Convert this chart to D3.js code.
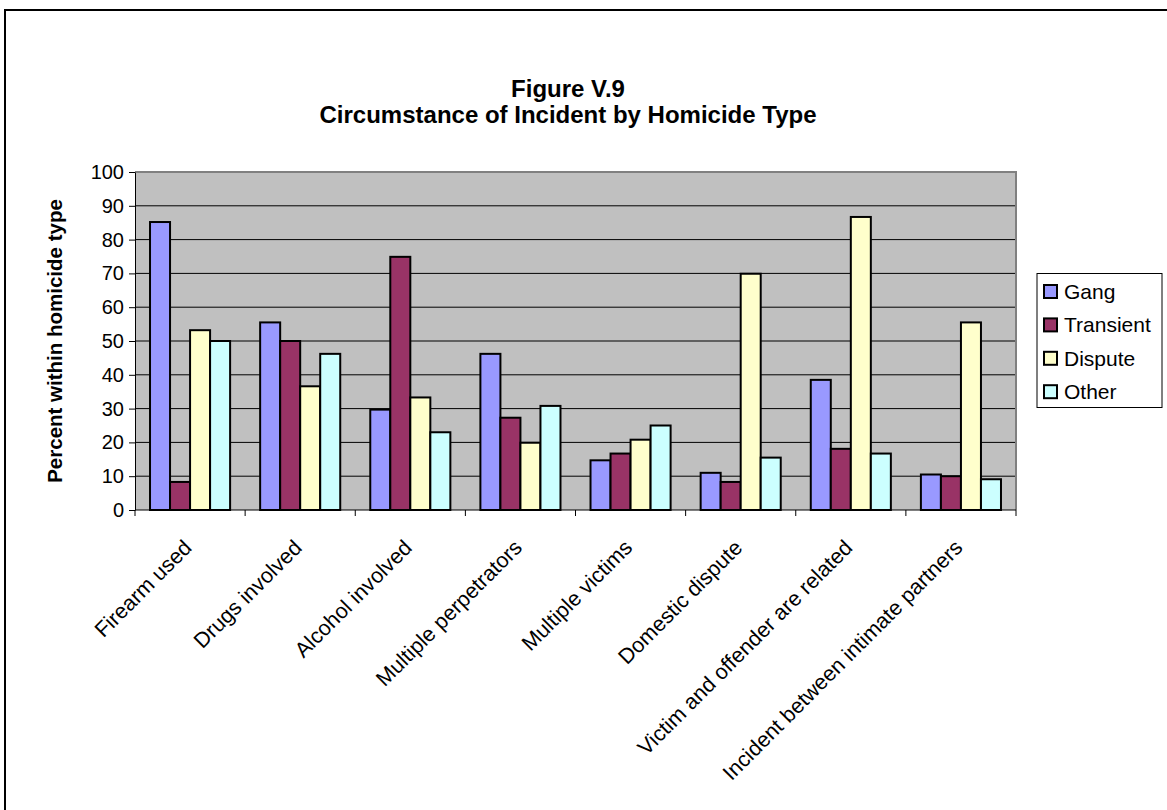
<!DOCTYPE html>
<html>
<head>
<meta charset="utf-8">
<script src="https://cdn.jsdelivr.net/npm/d3@7"></script>
<style>
  html, body { margin: 0; padding: 0; background: #fff; }
  svg { display: block; font-family: Arial, "Liberation Sans", sans-serif; }
</style>
</head>
<body>
<svg id="chart" width="1167" height="810"></svg>
<script>
// Circumstance categories (x axis)
const categories = [
  "Firearm used",
  "Drugs involved",
  "Alcohol involved",
  "Multiple perpetrators",
  "Multiple victims",
  "Domestic dispute",
  "Victim and offender are related",
  "Incident between intimate partners"
];

// Homicide types (series)
const seriesNames = ["Gang", "Transient", "Dispute", "Other"];
const seriesColors = ["#9999FF", "#993366", "#FFFFCC", "#CCFFFF"];

// Percent within homicide type, one array per series
const gang      = [85.2, 55.5, 29.7, 46.2, 14.7, 11.0, 38.5, 10.5];
const transient = [8.3, 50.0, 74.9, 27.3, 16.7, 8.3, 18.1, 10.0];
const dispute   = [53.2, 36.6, 33.3, 19.9, 20.8, 69.9, 86.7, 55.5];
const other     = [50.0, 46.2, 23.0, 30.8, 25.0, 15.5, 16.7, 9.1];

const yTicks = [0, 10, 20, 30, 40, 50, 60, 70, 80, 90, 100];

const seriesValues = [gang, transient, dispute, other];

const svg = d3.select("#chart");

// Outer chart frame
svg.append("rect")
  .attr("x", 5).attr("y", 10)
  .attr("width", 1200).attr("height", 900)
  .attr("fill", "#fff").attr("stroke", "#000").attr("stroke-width", 2);

// Titles
svg.append("text")
  .attr("x", 568).attr("y", 97)
  .attr("text-anchor", "middle")
  .attr("font-size", 24).attr("font-weight", "bold")
  .text("Figure V.9");
svg.append("text")
  .attr("x", 568).attr("y", 123)
  .attr("text-anchor", "middle")
  .attr("font-size", 24).attr("font-weight", "bold")
  .text("Circumstance of Incident by Homicide Type");

// Plot area
const plot = { left: 135, right: 1016, top: 172, bottom: 510 };

const x0 = d3.scaleBand()
  .domain(categories)
  .range([plot.left, plot.right])
  .paddingInner(0).paddingOuter(0);

const x1 = d3.scaleBand()
  .domain(seriesNames)
  .range([0, x0.bandwidth()])
  .paddingOuter(0.75).paddingInner(0);

const y = d3.scaleLinear()
  .domain([0, 100])
  .range([plot.bottom, plot.top]);

// Plot background
svg.append("rect")
  .attr("x", plot.left).attr("y", plot.top)
  .attr("width", plot.right - plot.left).attr("height", plot.bottom - plot.top)
  .attr("fill", "#C0C0C0");

// Horizontal gridlines
svg.append("g")
  .selectAll("line")
  .data(yTicks.filter(d => d > 0 && d < 100))
  .join("line")
  .attr("x1", plot.left).attr("x2", plot.right)
  .attr("y1", d => y(d)).attr("y2", d => y(d))
  .attr("stroke", "#000").attr("stroke-width", 1);

// Plot border (top & right)
svg.append("path")
  .attr("d", `M${plot.left},${plot.top}H${plot.right}V${plot.bottom}`)
  .attr("fill", "none").attr("stroke", "#808080").attr("stroke-width", 2);

// Bars
const groups = svg.append("g")
  .selectAll("g")
  .data(categories)
  .join("g")
  .attr("transform", d => `translate(${x0(d)},0)`);

groups.selectAll("rect")
  .data((d, i) => seriesNames.map((s, j) => ({ s, v: seriesValues[j][i], c: seriesColors[j] })))
  .join("rect")
  .attr("x", d => x1(d.s))
  .attr("width", x1.bandwidth())
  .attr("y", d => y(d.v))
  .attr("height", d => y(0) - y(d.v))
  .attr("fill", d => d.c)
  .attr("stroke", "#000").attr("stroke-width", 2);

// Y axis
const yAxis = svg.append("g")
  .attr("transform", `translate(${plot.left},0)`)
  .call(d3.axisLeft(y).tickValues(yTicks).tickSize(6).tickPadding(5).tickSizeOuter(0));
yAxis.select(".domain").attr("stroke", "#000").attr("stroke-width", 1);
yAxis.selectAll(".tick line").attr("stroke", "#000");
yAxis.selectAll(".tick text")
  .attr("font-size", 20).attr("fill", "#000")
  .attr("font-family", "Arial, 'Liberation Sans', sans-serif");

// X axis: ticks at category boundaries
const xBoundaries = categories.map(c => x0(c)).concat([plot.right]);
svg.append("line")
  .attr("x1", plot.left).attr("x2", plot.right)
  .attr("y1", plot.bottom).attr("y2", plot.bottom)
  .attr("stroke", "#000").attr("stroke-width", 1);
svg.append("g")
  .selectAll("line")
  .data(xBoundaries)
  .join("line")
  .attr("x1", d => d).attr("x2", d => d)
  .attr("y1", plot.bottom).attr("y2", plot.bottom + 6)
  .attr("stroke", "#000");

// Rotated category labels
svg.append("g")
  .selectAll("text")
  .data(categories)
  .join("text")
  .attr("transform", d => `translate(${x0(d) + x0.bandwidth() / 2 + 3},${plot.bottom + 39}) rotate(-45)`)
  .attr("text-anchor", "end")
  .attr("font-size", 21.5)
  .text(d => d);

// Y axis title
svg.append("text")
  .attr("transform", `translate(62,${(plot.top + plot.bottom) / 2}) rotate(-90)`)
  .attr("text-anchor", "middle")
  .attr("font-size", 20.5).attr("font-weight", "bold")
  .text("Percent within homicide type");

// Legend
const legend = svg.append("g");
legend.append("rect")
  .attr("x", 1037).attr("y", 273.5)
  .attr("width", 125).attr("height", 134)
  .attr("fill", "#fff").attr("stroke", "#000").attr("stroke-width", 1);
const items = legend.selectAll("g")
  .data(seriesNames)
  .join("g")
  .attr("transform", (d, i) => `translate(1044,${291.5 + i * 33.4})`);
items.append("rect")
  .attr("x", 0).attr("y", -6.5).attr("width", 13).attr("height", 13)
  .attr("fill", (d, i) => seriesColors[i])
  .attr("stroke", "#000").attr("stroke-width", 2);
items.append("text")
  .attr("x", 20).attr("y", 7.5)
  .attr("font-size", 21)
  .text(d => d);
</script>
</body>
</html>
